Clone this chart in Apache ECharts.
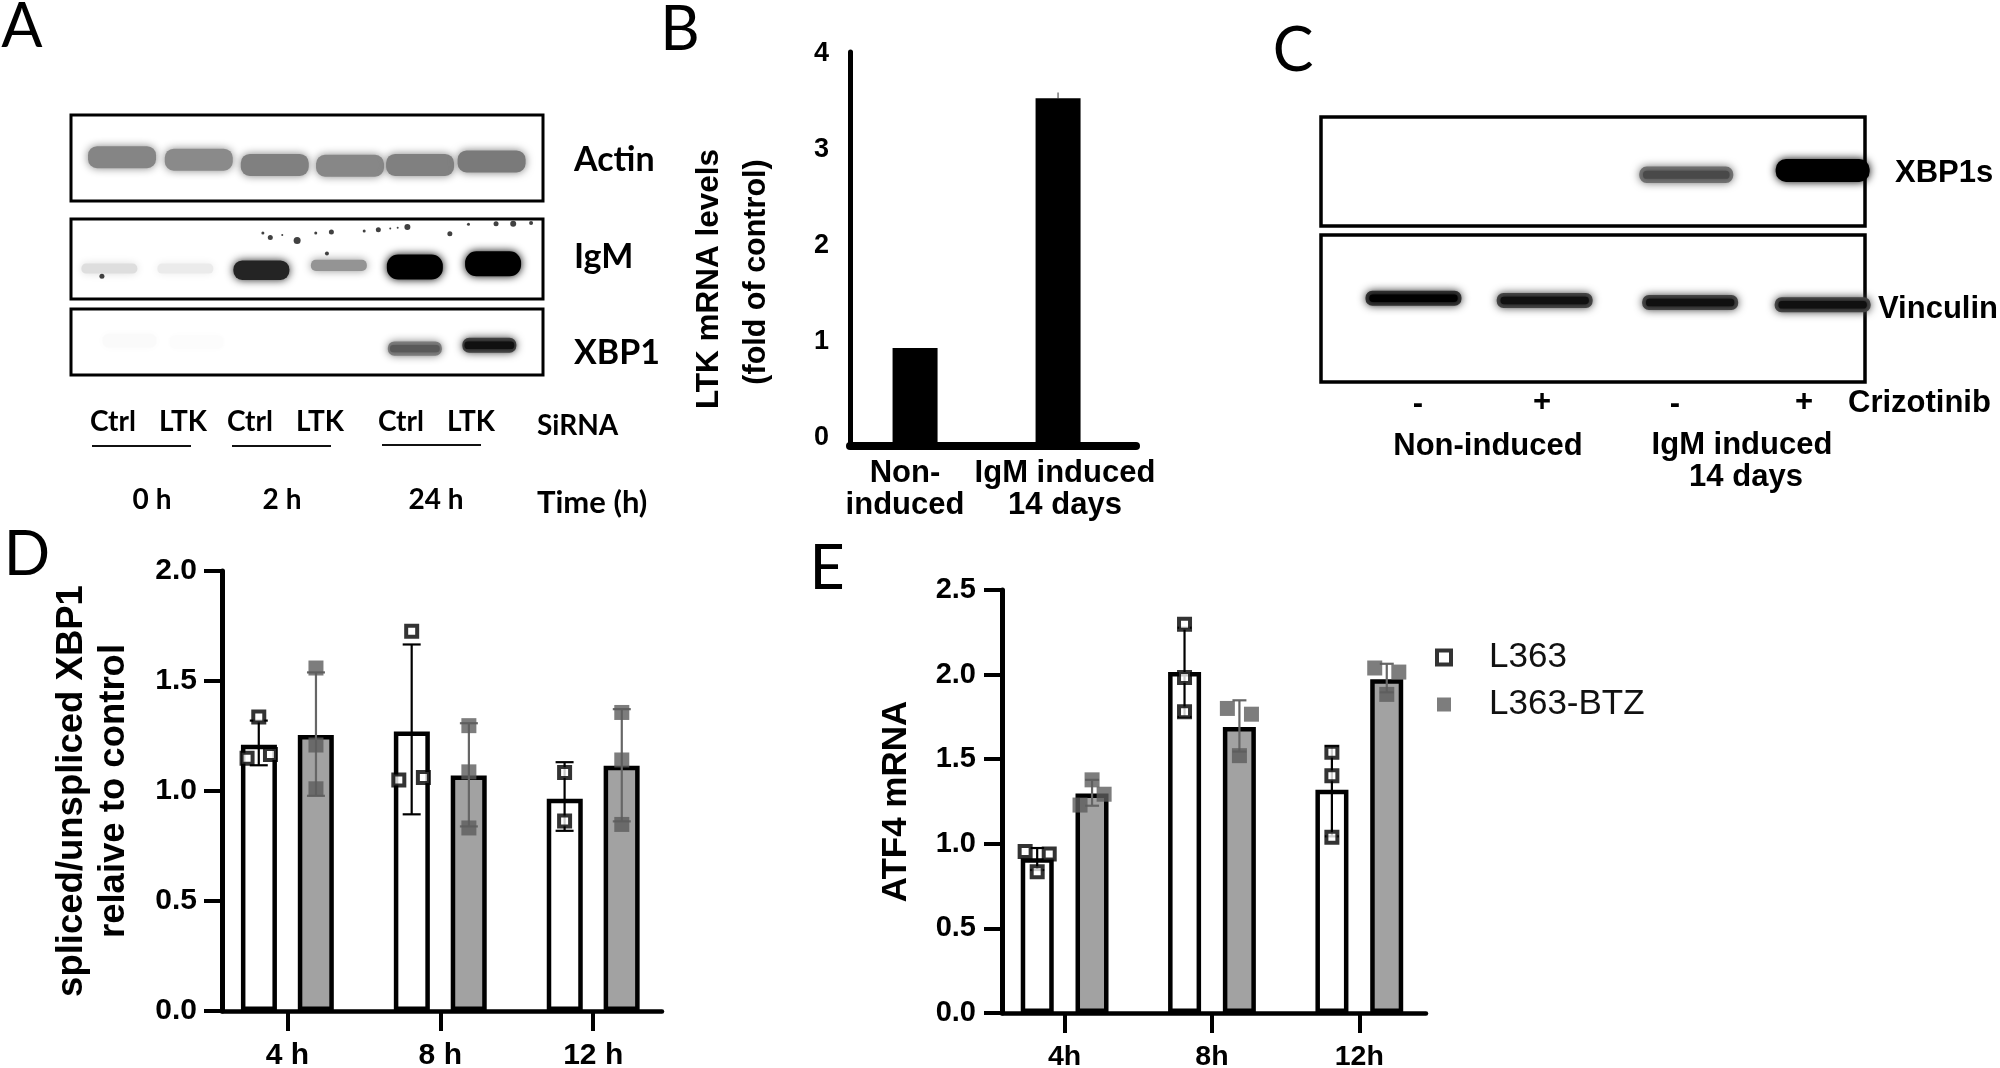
<!DOCTYPE html>
<html><head><meta charset="utf-8">
<style>html,body{margin:0;padding:0;background:#fff}#c{width:2000px;height:1068px}</style>
<script src="https://cdn.jsdelivr.net/npm/echarts@6/dist/echarts.min.js"></script>
</head><body><div id="c"></div>
<script>
// ---- Panel A: blot lanes, migration position (0 top .. 1 bottom) and band intensity
const actinLanes=[1,2.03,3.05,4.06,5,5.96];
const actinMigration=[.49,.52,.58,.59,.58,.54];
const actinIntensity=[.48,.46,.5,.47,.5,.52];
const igmLanes=[.83,1.85,2.87,3.91,4.93,5.98];
const igmMigration=[.62,.62,.64,.58,.6,.56];
const igmIntensity=[.13,.08,.86,.42,1,1];
const igmSpeckLane=[2.89,2.99,3.35,3.6,3.81,4.25,4.44,4.83,5.4,5.65,6.02,6.25,6.49,.73,3.75,4.6,4.7,3.15];
const igmSpeckPos=[.176,.231,.27,.176,.164,.15,.134,.1,.185,.066,.058,.058,.05,.717,.43,.12,.11,.2];
const igmSpeckSize=[3,5,7,3,5,3,5,6,5,3,5,6,4,5,4,2,2,2];
const xbp1Lanes=[1.1,2,4.93,5.93];
const xbp1Migration=[.48,.5,.6,.55];
const xbp1Intensity=[.02,.012,.5,.72];
// ---- Panel B
const bCategories=['Non-\ninduced','IgM induced\n14 days'];
const bTickLabels=[0,1,2,3,4];
const bValues=[0.995,3.53];
const bErrors=[0,0.06];
// ---- Panel C
const xbp1sLanes=[3.1,4.15];
const xbp1sMigration=[.53,.49];
const xbp1sIntensity=[.55,1];
const vinculinLanes=[1,2.01,3.13,4.15];
const vinculinMigration=[.43,.445,.46,.475];
const vinculinIntensity=[.8,.72,.72,.72];
const cSigns=['-','+','-','+'];
// ---- Panels D, E: hours, bar means, error limits, replicates and their swarm slots
const hours=[4,8,12];
const dL363Means=[1.21,1.27,.965];
const dBtzMeans=[1.255,1.07,1.115];
const dL363Low=[1.117,.894,.819];
const dL363High=[1.32,1.666,1.131];
const dBtzLow=[.978,.839,.862];
const dBtzHigh=[1.539,1.308,1.372];
const dL363Points=[[1.336,1.149,1.166],[1.726,1.05,1.061],[1.084,.864]];
const dL363Slots=[[0,-1,1],[0,-1.1,1],[0,0]];
const dBtzPoints=[[1.559,1.209,1.01],[1.297,1.087,.832],[1.357,1.141,.848]];
const dBtzSlots=[[0,0,0],[0,0,0],[0,0,0]];
const eL363Means=[.915,2.015,1.32];
const eBtzMeans=[1.297,1.69,1.973];
const eL363Low=[.845,1.75,1.044];
const eL363High=[.975,2.277,1.577];
const eBtzLow=[1.225,1.545,1.895];
const eBtzHigh=[1.378,1.848,2.064];
const eL363Points=[[.955,.835,.939],[2.297,1.983,1.78],[1.541,1.402,1.038]];
const eL363Slots=[[-1,0,1],[0,0,0],[0,0,0]];
const eBtzPoints=[[1.378,1.293,1.229],[1.8,1.766,1.521],[2.039,2.015,1.883]];
const eBtzSlots=[[0,1,-1],[-1,1,0],[-1,1,0]];

const SANS='"Liberation Sans",Arial,sans-serif', CAL='Lato,"Open Sans",sans-serif';
const BLACK='#000', BARGRAY='#a2a2a2', DOT='#5c5c5c', ERR='#666';
const boxFill='#fff';

function gray(i){const v=Math.max(0,Math.round(255*(1-Math.min(1,i))));return `rgb(${v},${v},${v})`;}

const grids=[],xAxes=[],yAxes=[],series=[];
function addGrid(g,x,y){grids.push(Object.assign({outerBoundsMode:'none',containLabel:false},g));
  xAxes.push(Object.assign({gridIndex:grids.length-1},x));
  yAxes.push(Object.assign({gridIndex:grids.length-1},y));return grids.length-1;}

// ---- blots
function addBlot(rect,xr,border,lanes,mig,inten,style){
  const idx=addGrid(Object.assign({show:true,backgroundColor:boxFill,borderColor:BLACK,borderWidth:border},rect),
    {type:'value',min:xr[0],max:xr[1],show:false},{type:'value',min:0,max:1,inverse:true,show:false});
  series.push({type:'custom',xAxisIndex:idx,yAxisIndex:idx,silent:true,
    data:lanes.map((l,i)=>[l,mig[i],inten[i]]),
    renderItem(p,api){
      const c=api.coord([api.value(0),api.value(1)]),v=api.value(2);
      const w=style.w,h=style.base+style.gain*Math.pow(v,3);
      const kids=[{type:'rect',shape:{x:c[0]-w/2,y:c[1]-h/2,width:w,height:h,r:style.r||h/2.2},
        style:{fill:gray(v),shadowBlur:style.blur,shadowColor:gray(v)}}];
      if(style.core&&v>.4){const hc=h*.5,wc=w*.92;kids.push({type:'rect',shape:{x:c[0]-wc/2,y:c[1]-hc/2,width:wc,height:hc,r:hc/2.2},
        style:{fill:gray(v*1.3),shadowBlur:style.blur/2,shadowColor:gray(v*1.3)}});}
      return {type:'group',children:kids};
    }});
  return idx;
}
const laneRangeA=[.315,6.65];
addBlot({left:71,top:115,width:472,height:86},laneRangeA,3,actinLanes,actinMigration,actinIntensity,{w:68,base:22,gain:0,blur:8,r:9});
const igmIdx=addBlot({left:71,top:219,width:472,height:80},laneRangeA,3,igmLanes,igmMigration,igmIntensity,{w:56,base:10,gain:15,blur:8});
series.push({type:'scatter',xAxisIndex:igmIdx,yAxisIndex:igmIdx,silent:true,symbol:'circle',
  data:igmSpeckLane.map((l,i)=>[l,igmSpeckPos[i],igmSpeckSize[i]]),symbolSize:v=>v[2],itemStyle:{color:'#111'}});
addBlot({left:71,top:309,width:472,height:66},laneRangeA,3,xbp1Lanes,xbp1Migration,xbp1Intensity,{w:54,base:14,gain:3,blur:8,core:true});
const laneRangeC=[.288,4.476];
addBlot({left:1321,top:117,width:544,height:109},laneRangeC,3.5,xbp1sLanes,xbp1sMigration,xbp1sIntensity,{w:94,base:15,gain:8,blur:9,core:true});
addBlot({left:1321,top:235,width:544,height:147},laneRangeC,3.5,vinculinLanes,vinculinMigration,vinculinIntensity,{w:96,base:15,gain:0,blur:9,core:true});

// ---- Panel B: label frame + plotted frame
const hiddenLine={show:false};
addGrid({left:825,top:54,width:320,height:384},
  {type:'category',data:bCategories,axisLine:hiddenLine,axisTick:hiddenLine,
   axisLabel:{margin:19,fontFamily:SANS,fontWeight:'bold',fontSize:31,lineHeight:32,color:BLACK,interval:0}},
  {type:'value',min:0,max:4,interval:1,offset:-10,axisLine:hiddenLine,axisTick:hiddenLine,splitLine:hiddenLine,
   axisLabel:{margin:6,fontFamily:SANS,fontWeight:'bold',fontSize:27,color:BLACK,customValues:bTickLabels}});
const bIdx=addGrid({left:850,top:52,width:286,height:394},
  {type:'value',min:.545,max:2.545,axisLine:{onZero:false,lineStyle:{color:BLACK,width:8}},axisTick:hiddenLine,axisLabel:hiddenLine,splitLine:hiddenLine},
  {type:'value',min:0,max:4,interval:1,axisLine:{show:true,onZero:false,lineStyle:{color:BLACK,width:5}},axisTick:hiddenLine,axisLabel:hiddenLine,splitLine:hiddenLine});
series.push({name:'LTK',type:'bar',xAxisIndex:bIdx,yAxisIndex:bIdx,barWidth:45,silent:true,
  data:bValues.map((v,i)=>[i+1,v]),itemStyle:{color:BLACK}});
series.push({type:'custom',xAxisIndex:bIdx,yAxisIndex:bIdx,silent:true,
  data:bValues.map((v,i)=>[i+1,v,v+bErrors[i]]),
  renderItem(p,api){const a=api.coord([api.value(0),api.value(1)]),b=api.coord([api.value(0),api.value(2)]);
    return {type:'line',shape:{x1:a[0],y1:a[1],x2:b[0],y2:b[1]},style:{stroke:'#777',lineWidth:1.5}};}});

// ---- Panels D, E
function errorSeries(idx,xs,lo,hi,col,cap){return {type:'custom',xAxisIndex:idx,yAxisIndex:idx,silent:true,z:4,
  data:xs.map((x,i)=>[x,lo[i],hi[i]]),
  renderItem(p,api){const a=api.coord([api.value(0),api.value(1)]),b=api.coord([api.value(0),api.value(2)]);
    const st={stroke:col,lineWidth:2.2};
    return {type:'group',children:[
      {type:'line',shape:{x1:a[0],y1:a[1],x2:b[0],y2:b[1]},style:st},
      {type:'line',shape:{x1:a[0]-cap,y1:a[1],x2:a[0]+cap,y2:a[1]},style:st},
      {type:'line',shape:{x1:b[0]-cap,y1:b[1],x2:b[0]+cap,y2:b[1]},style:st}]};}};}
function addBarPanel(cfg){
  const idx=addGrid({left:cfg.left,top:cfg.top,width:cfg.width,height:cfg.height},
   {type:'value',min:cfg.xr[0],max:cfg.xr[1],splitLine:hiddenLine,
    axisLine:{onZero:false,lineStyle:{color:BLACK,width:4.5}},
    axisTick:{show:true,customValues:hours,length:20,lineStyle:{color:BLACK,width:4}},
    axisLabel:{customValues:hours,formatter:v=>v+cfg.unit,margin:cfg.xMargin,fontFamily:SANS,fontWeight:'bold',fontSize:cfg.xFont,color:BLACK}},
   {type:'value',min:0,max:cfg.yMax,interval:.5,splitLine:hiddenLine,
    axisLine:{show:true,onZero:false,lineStyle:{color:BLACK,width:5}},
    axisTick:{show:true,length:18,lineStyle:{color:BLACK,width:4}},
    axisLabel:{margin:cfg.yMargin,fontFamily:SANS,fontWeight:'bold',fontSize:cfg.yFont,color:BLACK,formatter:v=>v.toFixed(1)},
    name:cfg.title,nameLocation:'middle',nameGap:cfg.nameGap,nameRotate:90,
    nameTextStyle:{fontFamily:SANS,fontWeight:'bold',fontSize:cfg.nameFont,lineHeight:42,color:BLACK}});
  const sets=[
    {name:'L363',means:cfg.m1,lo:cfg.l1,hi:cfg.h1,pts:cfg.p1,slots:cfg.s1,side:-cfg.sideH,fill:'#fff',err:BLACK,
     dot:{color:'#fff',borderColor:BLACK,borderWidth:4},size:11},
    {name:'L363-BTZ',means:cfg.m2,lo:cfg.l2,hi:cfg.h2,pts:cfg.p2,slots:cfg.s2,side:cfg.sideH,fill:BARGRAY,err:ERR,
     dot:{color:DOT},size:15}];
  sets.forEach(s=>{
    series.push({name:s.name+' mean',type:'bar',xAxisIndex:idx,yAxisIndex:idx,silent:true,z:2,
      barWidth:cfg.barW,barGap:cfg.barGap,data:hours.map((h,i)=>[h,s.means[i]]),
      itemStyle:{color:s.fill,borderColor:BLACK,borderWidth:4.5}});
  });
  sets.forEach(s=>{
    series.push(errorSeries(idx,hours.map(h=>h+s.side),s.lo,s.hi,s.err,cfg.cap));
    const data=[];hours.forEach((h,i)=>s.pts[i].forEach((v,j)=>data.push([h+s.side+s.slots[i][j]*cfg.jitterH,v])));
    series.push({name:s.name,type:'scatter',xAxisIndex:idx,yAxisIndex:idx,silent:true,z:5,symbol:'rect',symbolSize:s.size,data,itemStyle:s.dot});
  });
}
addBarPanel({left:222,top:571,width:440,height:440,xr:[2.29,13.8],yMax:2,unit:' h',xMargin:30,xFont:30,yMargin:25,yFont:30,
  title:'spliced/unspliced XBP1\nrelaive to control',nameGap:87,nameFont:36.5,sideH:.748,jitterH:.306,barW:36,barGap:'58%',cap:9,
  m1:dL363Means,l1:dL363Low,h1:dL363High,p1:dL363Points,s1:dL363Slots,m2:dBtzMeans,l2:dBtzLow,h2:dBtzHigh,p2:dBtzPoints,s2:dBtzSlots});
addBarPanel({left:1002,top:590,width:424,height:423,xr:[2.3,13.81],yMax:2.5,unit:'h',xMargin:30,xFont:28.5,yMargin:26,yFont:29,
  title:'ATF4 mRNA',nameGap:85,nameFont:35,sideH:.745,jitterH:.327,barW:33,barGap:'66%',cap:7,
  m1:eL363Means,l1:eL363Low,h1:eL363High,p1:eL363Points,s1:eL363Slots,m2:eBtzMeans,l2:eBtzLow,h2:eBtzHigh,p2:eBtzPoints,s2:eBtzSlots});

// ---- Free text annotations
function T(text,x,y,font,weight,fam,align,rot){return {type:'text',x,y,rotation:rot||0,z:20,silent:true,
  style:{text,font:`${weight} ${font}px ${fam}`,fill:BLACK,align:align||'center',verticalAlign:'middle',lineHeight:font+3}};}
function L(x1,x2,y){return {type:'line',z:20,silent:true,shape:{x1,y1:y,x2,y2:y},style:{stroke:'#111',lineWidth:2.2}};}
const graphicEls=[
  T('A',22,27,61,'normal',CAL),T('B',680,30,61,'normal',CAL),T('C',1293,51,61,'normal',CAL),
  T('D',27,555,61,'normal',CAL),T('E',827,569,61,'normal',CAL),
  T('Actin',574,160,34,'bold',CAL,'left'),T('IgM',574,257,34,'bold',CAL,'left'),T('XBP1',574,353,34,'bold',CAL,'left'),
  T('Ctrl',113,422,28,'bold',CAL),T('LTK',183,422,28,'bold',CAL),T('Ctrl',250,422,28,'bold',CAL),
  T('LTK',320,422,28,'bold',CAL),T('Ctrl',401,422,28,'bold',CAL),T('LTK',471,422,28,'bold',CAL),
  T('SiRNA',537,426,28,'bold',CAL,'left'),
  L(92,191,446),L(232,331,446),L(382,481,445),
  T('0 h',152,500,28,'bold',CAL),T('2 h',282,500,28,'bold',CAL),T('24 h',436,500,28,'bold',CAL),
  T('Time (h)',537,503,31,'bold',CAL,'left'),
  T('LTK mRNA levels',709,279,31.5,'bold',SANS,'center',Math.PI/2),
  T('(fold of control)',757,272,30.5,'bold',SANS,'center',Math.PI/2),
  T('XBP1s',1895,173,31,'bold',SANS,'left'),T('Vinculin',1878,309,31,'bold',SANS,'left'),
  T(cSigns[0],1418,404,31,'bold',SANS),T(cSigns[1],1542,402,31,'bold',SANS),
  T(cSigns[2],1675,404,31,'bold',SANS),T(cSigns[3],1804,402,31,'bold',SANS),
  T('Crizotinib',1848,403,31,'bold',SANS,'left'),
  T('Non-induced',1488,446,31,'bold',SANS),T('IgM induced',1742,445,31,'bold',SANS),T('14 days',1746,477,31,'bold',SANS)
];

const chart=echarts.init(document.getElementById('c'),null,{renderer:'canvas',width:2000,height:1068});
chart.setOption({
  animation:false,backgroundColor:'#fff',grid:grids,xAxis:xAxes,yAxis:yAxes,series,graphic:{elements:graphicEls},
  tooltip:{show:false},
  legend:{show:true,orient:'vertical',left:1430,top:635,itemWidth:14,itemHeight:14,itemGap:12,selectedMode:false,
    data:[{name:'L363',itemStyle:{color:'#fff',borderColor:BLACK,borderWidth:4}},{name:'L363-BTZ',itemStyle:{color:DOT,borderWidth:0}}],
    textStyle:{fontFamily:SANS,fontSize:35,lineHeight:34,color:'#111',padding:[0,0,0,33]}}
});
</script></body></html>
